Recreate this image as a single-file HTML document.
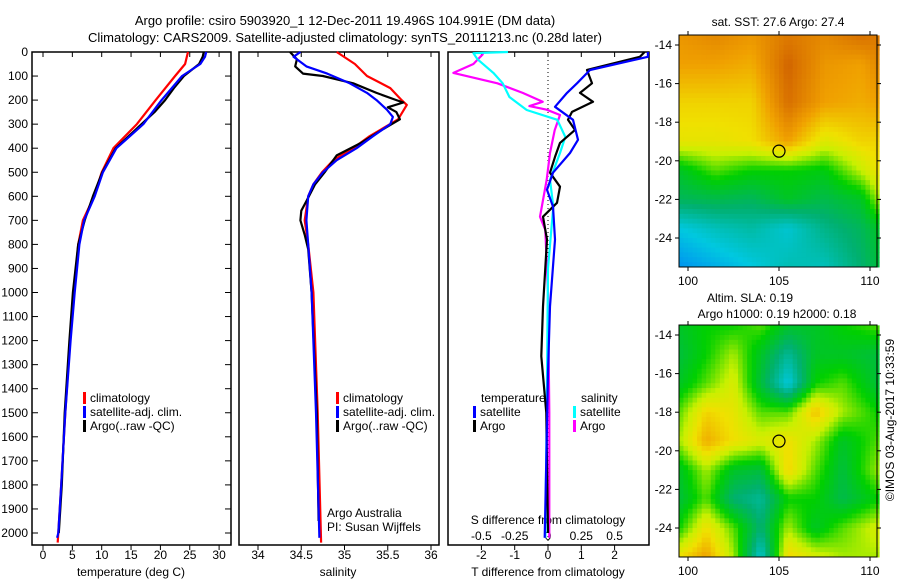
<!DOCTYPE html>
<html><head><meta charset="utf-8">
<style>
html,body{margin:0;padding:0;background:#fff;}
svg{display:block;font-family:"Liberation Sans",sans-serif;font-size:12px;}
</style></head>
<body>
<svg id="chart" width="900" height="580" viewBox="0 0 900 580" xmlns="http://www.w3.org/2000/svg">
<rect x="0" y="0" width="900" height="580" fill="#fff"/>
<text x="345" y="25" text-anchor="middle" font-size="13">Argo profile: csiro 5903920_1 12-Dec-2011 19.496S 104.991E (DM data)</text>
<text x="345" y="42" text-anchor="middle" font-size="13">Climatology: CARS2009. Satellite-adjusted climatology: synTS_20111213.nc (0.28d later)</text>
<g id="g"></g>
</svg>
<script>
// ---- Temperature profile data ----
const depthTClim = [0,50,100,200,300,400,500,600,700,800,1000,1200,1500,1800,2000,2040];
const tempClim   = [24.7,24.2,22.5,19.2,16,12,10,8.7,6.8,6,5.3,4.6,3.8,3.1,2.6,2.5];
const depthTSat  = [0,20,50,100,200,300,400,500,600,700,800,1000,1200,1500,1800,2000,2020];
const tempSat    = [27.8,27.6,26.8,23.7,20.2,17.1,12.5,10.2,8.8,7,6.2,5.4,4.7,3.8,3.1,2.6,2.4];
const depthTArgo = [0,20,50,100,150,200,250,300,400,500,600,700,800,1000,1200,1500,1800,2000];
const tempArgo   = [27.4,27.2,26.6,24,22.3,20.8,19,16.8,12.4,10.1,8.5,7.1,6,5.1,4.5,3.7,3.2,2.7];
// ---- Salinity profile data ----
const depthSClim = [0,50,100,150,200,220,280,350,400,450,500,550,600,700,800,1000,1500,2040];
const salClim    = [34.91,35.12,35.26,35.53,35.66,35.72,35.62,35.29,35.1,34.87,34.74,34.64,34.58,34.54,34.58,34.64,34.69,34.73];
const depthSSat  = [0,20,60,90,130,170,200,240,270,300,350,400,450,500,550,600,700,800,1000,1500,2020];
const salSat     = [34.49,34.41,34.56,34.8,35.06,35.26,35.37,35.49,35.56,35.53,35.33,35.14,34.91,34.75,34.64,34.58,34.56,34.58,34.62,34.67,34.71];
const depthSArgo = [0,30,60,90,100,130,170,200,210,230,250,280,320,380,430,500,550,620,660,700,760,820,1000,1500,1950];
const salArgo    = [34.37,34.45,34.43,34.52,34.75,35.1,35.37,35.6,35.68,35.5,35.6,35.64,35.45,35.18,34.91,34.77,34.66,34.56,34.5,34.49,34.54,34.58,34.62,34.68,34.7];
// ---- Difference data ----
const depthDT1 = [0,20,75,130,170,228,282,365,420,502,573,643,780,1058,1332,1700,2020];
const dTSat    = [3.0,3.0,1.26,0.87,0.57,0.21,0.75,0.9,0.66,0.15,-0.03,0.15,0.21,0.06,0,-0.05,-0.1];
const depthDT2 = [0,20,75,130,170,207,249,282,324,378,436,502,560,627,685,780,1058,1265,1500,2000];
const dTArgo   = [2.9,2.76,1.17,1.32,0.96,1.35,0.72,0.6,0.81,0.36,0.21,0.06,0.36,0.27,-0.15,-0.03,-0.15,-0.2,-0.05,0];
const depthDS1 = [0,5,30,87,130,187,241,282,353,420,531,643,900,1500,2020];
const dSSat    = [-0.3,-0.56,-0.53,-0.41,-0.34,-0.29,-0.16,0.07,0.13,0.09,0.015,0.04,0,-0.01,-0.02];
const depthDS2 = [0,10,50,87,130,170,207,225,240,262,325,420,531,685,740,1000,1500,2020];
const dSArgo   = [-0.49,-0.49,-0.56,-0.71,-0.38,-0.19,-0.04,-0.14,-0.01,0.09,0.05,0.015,-0.01,-0.06,-0.02,0,0.01,0.01];
// ---- Map data (coarse grids, colour-index 0..1) ----
const sstLats = [-13.5,-15,-17,-19,-20.5,-22,-23.5,-25.5];
const sstLons = [99.5,101.5,103.5,105.5,107.5,109.5,110.5];
const sstGrid = [
 [.82,.85,.82,.88,.85,.9,.88],
 [.8,.8,.78,.92,.82,.8,.85],
 [.72,.72,.72,.9,.8,.78,.8],
 [.68,.68,.7,.8,.66,.72,.72],
 [.45,.55,.5,.5,.48,.62,.7],
 [.38,.4,.38,.45,.4,.45,.6],
 [.2,.25,.28,.22,.32,.38,.45],
 [.1,.15,.2,.26,.25,.35,.42]];
const slaLats = [-13.5,-15,-16.5,-18,-19.5,-21,-22.5,-24,-25.5];
const slaLons = [99.5,101,102.5,104,105.5,107,108.5,110.5];
const slaGrid = [
 [.45,.5,.5,.55,.45,.45,.5,.55],
 [.42,.5,.6,.45,.3,.45,.45,.42],
 [.45,.55,.65,.42,.2,.5,.55,.42],
 [.55,.72,.68,.55,.55,.75,.6,.5],
 [.6,.78,.7,.65,.7,.6,.45,.55],
 [.45,.6,.45,.42,.72,.55,.42,.6],
 [.42,.55,.35,.3,.5,.5,.4,.5],
 [.5,.7,.55,.35,.6,.45,.55,.65],
 [.7,.8,.6,.22,.72,.65,.6,.6]];

const NS="http://www.w3.org/2000/svg";
const G=document.getElementById('g');
function mk(tag,attrs,parent){const e=document.createElementNS(NS,tag);for(const k in attrs)e.setAttribute(k,attrs[k]);(parent||G).appendChild(e);return e;}
function txt(x,y,s,anchor,parent){const t=mk('text',{x:x,y:y,'text-anchor':anchor||'middle'},parent);t.textContent=s;return t;}

const Y0=52, PXD=0.2405, YB=545;
function yD(d){return Y0+d*PXD;}
function xT(t){return 43+t*5.87;}
function xS(s){return 258+(s-34)*86.5;}
function xdT(v){return 548+v*33.3;}
function xdS(v){return 548+v*133.2;}

function frame(x1,x2,name){
  const r=mk('rect',{x:x1,y:Y0,width:x2-x1,height:YB-Y0,fill:'none',stroke:'#000','stroke-width':1.5});
  
  
}
function line(depths,vals,xf,color,name,x1,x2){
  let pts=[];
  for(let i=0;i<depths.length;i++){let x=Math.max(x1,Math.min(x2,xf(vals[i])));pts.push(x.toFixed(1)+','+yD(depths[i]).toFixed(1));}
  const p=mk('polyline',{points:pts.join(' '),fill:'none',stroke:color,'stroke-width':2.2,'stroke-linejoin':'round'});
  
  
}
function xticks(vals,labels,xf,ly){
  for(let i=0;i<vals.length;i++){const x=xf(vals[i]);
    mk('line',{x1:x,y1:YB,x2:x,y2:YB+5,stroke:'#000'});
    mk('line',{x1:x,y1:Y0,x2:x,y2:Y0+5,stroke:'#000'});
    const t=txt(x,ly,labels[i]);
    
    }
}
// Panel 1
frame(32,231,'temperature-panel');
const depthTicks=[0,100,200,300,400,500,600,700,800,900,1000,1100,1200,1300,1400,1500,1600,1700,1800,1900,2000];
for(const d of depthTicks){const y=yD(d);
  mk('line',{x1:32,y1:y,x2:38,y2:y,stroke:'#000'});mk('line',{x1:225,y1:y,x2:231,y2:y,stroke:'#000'});
  const t=txt(28,y+4,String(d),'end');
  
  }
const tTicks=[0,5,10,15,20,25,30];
xticks(tTicks,tTicks.map(String),xT,559);
let t1=txt(131,576,'temperature (deg C)');
line(depthTClim,tempClim,xT,'#f00','temp-climatology-line',32,231);
line(depthTArgo,tempArgo,xT,'#000','temp-argo-line',32,231);
line(depthTSat,tempSat,xT,'#00f','temp-satellite-line',32,231);
// Panel 2
frame(239,439,'salinity-panel');
const sTicks=[34,34.5,35,35.5,36];
xticks(sTicks,sTicks.map(String),xS,559);
let t2=txt(338,576,'salinity');
line(depthSClim,salClim,xS,'#f00','sal-climatology-line',239,439);
line(depthSArgo,salArgo,xS,'#000','sal-argo-line',239,439);
line(depthSSat,salSat,xS,'#00f','sal-satellite-line',239,439);
// Panel 3
frame(448,649,'difference-panel');
mk('line',{x1:548,y1:Y0,x2:548,y2:YB,stroke:'#000','stroke-dasharray':'1,3'});
const dTTicks=[-2,-1,0,1,2];
xticks(dTTicks,dTTicks.map(String),xdT,559);
const dSTicks=[-0.5,-0.25,0,0.25,0.5];
for(let i=0;i<dSTicks.length;i++){const t=txt(xdS(dSTicks[i]),540,String(dSTicks[i]).replace('-0.','-0.').replace(/^0\./,'0.'));
  }
let t3=txt(548,524,'S difference from climatology');
let t4=txt(548,576,'T difference from climatology');
line(depthDS2,dSArgo,xdS,'#f0f','sal-diff-argo-line',448,649);
line(depthDS1,dSSat,xdS,'#0ff','sal-diff-satellite-line',448,649);
line(depthDT2,dTArgo,xdT,'#000','temp-diff-argo-line',448,649);
line(depthDT1,dTSat,xdT,'#00f','temp-diff-satellite-line',448,649);

function legendEntry(x,y,color,label,name){
  const g=mk('g',{});
  
  
  mk('rect',{x:x,y:y-10,width:3,height:12,fill:color},g);
  txt(x+7,y,label,'start',g);
}
legendEntry(83,402,'#f00','climatology','legend-climatology');
legendEntry(83,416,'#00f','satellite-adj. clim.','legend-satellite-adj');
legendEntry(83,430,'#000','Argo(..raw -QC)','legend-argo');
legendEntry(336,402,'#f00','climatology','legend-climatology-2');
legendEntry(336,416,'#00f','satellite-adj. clim.','legend-satellite-adj-2');
legendEntry(336,430,'#000','Argo(..raw -QC)','legend-argo-2');
let a1=txt(327,517,'Argo Australia','start');
let a2=txt(327,531,'PI: Susan Wijffels','start');
let l1=txt(481,402,'temperature','start');
let l2=txt(581,402,'salinity','start');
legendEntry(473,416,'#00f','satellite','legend-temp-satellite');
legendEntry(473,430,'#000','Argo','legend-temp-argo');
legendEntry(573,416,'#0ff','satellite','legend-sal-satellite');
legendEntry(573,430,'#f0f','Argo','legend-sal-argo');

// Maps
const cstops=[[0,[0,96,255]],[0.2,[0,200,224]],[0.35,[0,176,112]],[0.5,[0,208,0]],[0.62,[200,240,0]],[0.7,[240,224,0]],[0.8,[240,160,0]],[0.9,[216,112,0]],[1,[176,48,0]]];
function cmap(v){v=Math.max(0,Math.min(1,v));for(let i=1;i<cstops.length;i++){if(v<=cstops[i][0]){const a=cstops[i-1],b=cstops[i];const f=(v-a[0])/(b[0]-a[0]);const c=a[1].map((q,k)=>Math.round(q+(b[1][k]-q)*f));return 'rgb('+c.join(',')+')';}}return 'rgb(176,48,0)';}
function interp1(arr,v){ // returns index fraction
  const asc=arr[arr.length-1]>arr[0];
  for(let i=0;i<arr.length-1;i++){const a=arr[i],b=arr[i+1];if(asc?(v>=a&&v<=b):(v<=a&&v>=b)){return i+(v-a)/(b-a);}}
  return (asc?v<arr[0]:v>arr[0])?0:arr.length-1;}
function sample(grid,lats,lons,lat,lon){
  const fi=interp1(lats,lat),fj=interp1(lons,lon);
  const i0=Math.min(Math.floor(fi),lats.length-2),j0=Math.min(Math.floor(fj),lons.length-2);
  const di=fi-i0,dj=fj-j0;
  return grid[i0][j0]*(1-di)*(1-dj)+grid[i0+1][j0]*di*(1-dj)+grid[i0][j0+1]*(1-di)*dj+grid[i0+1][j0+1]*di*dj;}
function drawMap(top,grid,lats,lons,name){
  const xL=(lon)=>688+(lon-100)*18.2, yL=(lat)=>top+10+(-14-lat)*19.3;
  const g=mk('g',{});
  
  
  const step=0.25;
  for(let lat=-13.5;lat>-25.5;lat-=step){for(let lon=99.5;lon<110.5;lon+=step){
    const v=sample(grid,lats,lons,lat-step/2,lon+step/2);
    mk('rect',{x:xL(lon).toFixed(2),y:yL(lat).toFixed(2),width:(step*18.2+0.5).toFixed(2),height:(step*19.3+0.5).toFixed(2),fill:cmap(v)},g);}}
  mk('rect',{x:679,y:top,width:198,height:232,fill:'none',stroke:'#000','stroke-width':1},g);
  for(const lon of [100,105,110]){const x=xL(lon);mk('line',{x1:x,y1:top,x2:x,y2:top-4,stroke:'#000'},g);mk('line',{x1:x,y1:top+232,x2:x,y2:top+236,stroke:'#000'},g);txt(x,top+250,String(lon),'middle',g);}
  for(const lat of [-14,-16,-18,-20,-22,-24]){const y=yL(lat);mk('line',{x1:679,y1:y,x2:675,y2:y,stroke:'#000'},g);mk('line',{x1:877,y1:y,x2:881,y2:y,stroke:'#000'},g);txt(672,y+4,String(lat),'end',g);}
  const c=mk('circle',{cx:xL(105),cy:yL(-19.5),r:6,fill:'none',stroke:'#000','stroke-width':1.2},g);
}
drawMap(35,sstGrid,sstLats,sstLons,'sst-map');
drawMap(325,slaGrid,slaLats,slaLons,'sla-map');
let m1=txt(778,26,'sat. SST: 27.6 Argo: 27.4');
let m2=txt(750,302,'Altim. SLA: 0.19');
let m3=txt(777,318,'Argo h1000: 0.19 h2000: 0.18');
let cr=txt(0,0,'©IMOS 03-Aug-2017 10:33:59');cr.setAttribute('transform','translate(894,420) rotate(-90)');

</script>
</body></html>
